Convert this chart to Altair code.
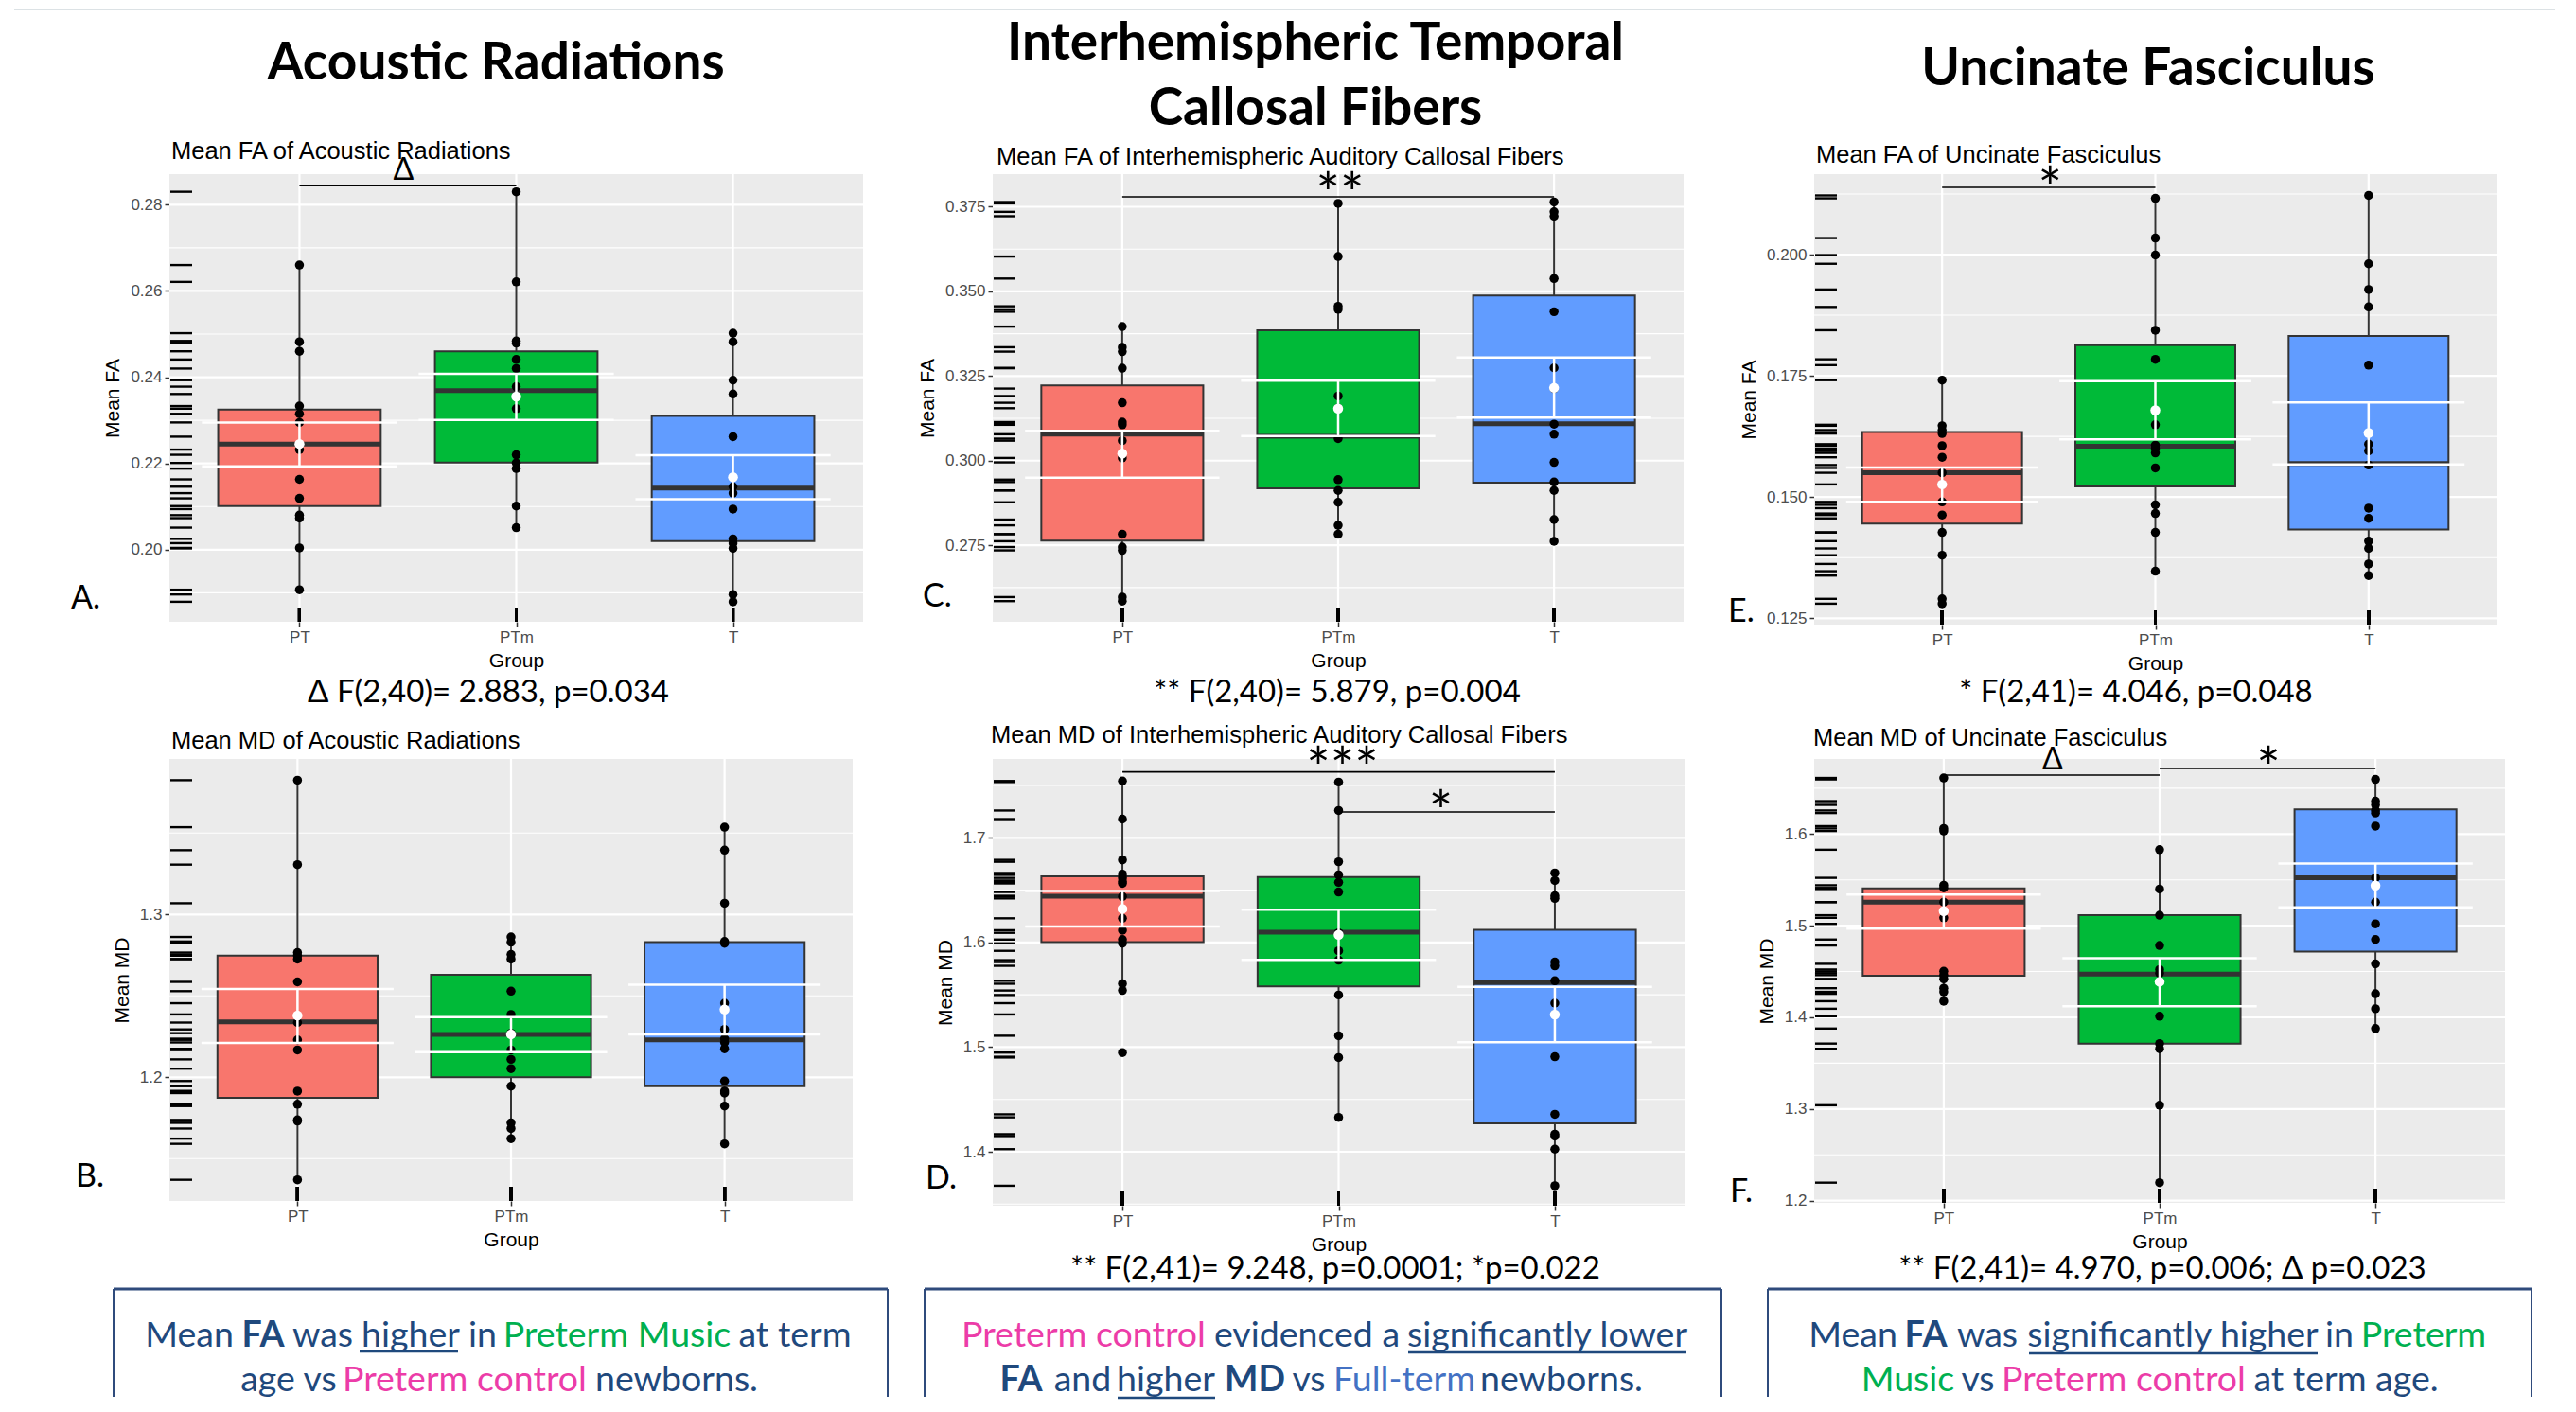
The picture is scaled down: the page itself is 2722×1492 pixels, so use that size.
import altair as alt
import pandas as pd

GROUPS = ["PT", "PTm", "T"]
BOX_FILL = ["#F8766D", "#00BA38", "#619CFF"]

# ---------------- data ----------------
# Panel A: Mean FA of Acoustic Radiations
A_PT = [0.2660, 0.2482, 0.2460, 0.2333, 0.2315, 0.2295, 0.2232, 0.2163, 0.2119, 0.2080, 0.2073, 0.2004, 0.1907]
A_PTM = [0.2830, 0.2621, 0.2484, 0.2479, 0.2441, 0.2420, 0.2378, 0.2327, 0.2220, 0.2201, 0.2188, 0.2101, 0.2051]
A_T = [0.2502, 0.2482, 0.2393, 0.2361, 0.2262, 0.2146, 0.2131, 0.2094, 0.2025, 0.2015, 0.2003, 0.1896, 0.1879]
A_Q1 = [0.2101, 0.2202, 0.2020]
A_MED = [0.2245, 0.2369, 0.2143]
A_Q3 = [0.2325, 0.2460, 0.2310]
A_WLO = [0.1907, 0.2051, 0.1879]
A_WHI = [0.2660, 0.2830, 0.2502]
A_MEAN = [0.2245, 0.2355, 0.2168]
A_SELO = [0.2193, 0.2301, 0.2117]
A_SEHI = [0.2295, 0.2408, 0.2219]

# Panel B: Mean MD of Acoustic Radiations
B_PT = [1.3825, 1.3306, 1.2766, 1.2747, 1.2726, 1.2586, 1.2336, 1.2230, 1.2168, 1.1915, 1.1834, 1.1738, 1.1731, 1.1370]
B_PTM = [1.2862, 1.2830, 1.2754, 1.2726, 1.2529, 1.2386, 1.2271, 1.2168, 1.2110, 1.2053, 1.1945, 1.1720, 1.1685, 1.1623]
B_T = [1.3536, 1.3395, 1.3069, 1.2834, 1.2823, 1.2455, 1.2294, 1.2237, 1.2214, 1.2175, 1.1977, 1.1915, 1.1903, 1.1823, 1.1591]
B_Q1 = [1.1874, 1.2000, 1.1945]
B_MED = [1.2340, 1.2264, 1.2230]
B_Q3 = [1.2747, 1.2630, 1.2830]
B_WLO = [1.1370, 1.1623, 1.1591]
B_WHI = [1.3825, 1.2862, 1.3536]
B_MEAN = [1.2379, 1.2264, 1.2416]
B_SELO = [1.2211, 1.2154, 1.2264]
B_SEHI = [1.2543, 1.2370, 1.2568]

# Panel C: Mean FA of Interhemispheric Auditory Callosal Fibers
C_PT = [0.3396, 0.3335, 0.3322, 0.3273, 0.3171, 0.3114, 0.3106, 0.3059, 0.3008, 0.2783, 0.2745, 0.2735, 0.2597, 0.2585]
C_PTM = [0.3760, 0.3603, 0.3456, 0.3447, 0.3191, 0.3155, 0.3065, 0.2944, 0.2912, 0.2877, 0.2809, 0.2783]
C_T = [0.3764, 0.3735, 0.3722, 0.3538, 0.3440, 0.3274, 0.3213, 0.3108, 0.3078, 0.2995, 0.2937, 0.2912, 0.2826, 0.2762]
C_Q1 = [0.2764, 0.2918, 0.2935]
C_MED = [0.3078, 0.3072, 0.3109]
C_Q3 = [0.3222, 0.3385, 0.3488]
C_WLO = [0.2585, 0.2783, 0.2762]
C_WHI = [0.3396, 0.3760, 0.3764]
C_MEAN = [0.3021, 0.3154, 0.3215]
C_SELO = [0.2950, 0.3073, 0.3127]
C_SEHI = [0.3088, 0.3236, 0.3305]

# Panel D: Mean MD of Interhemispheric Auditory Callosal Fibers
D_PT = [1.7543, 1.7179, 1.6789, 1.6653, 1.6617, 1.6582, 1.6564, 1.6439, 1.6231, 1.6117, 1.6028, 1.5992, 1.5606, 1.5541, 1.4948]
D_PTM = [1.7533, 1.7261, 1.6771, 1.6646, 1.6575, 1.6482, 1.6092, 1.5920, 1.5831, 1.5498, 1.5109, 1.4901, 1.4329]
D_T = [1.6664, 1.6592, 1.6446, 1.6421, 1.5813, 1.5777, 1.5634, 1.5420, 1.5312, 1.4908, 1.4358, 1.4168, 1.4150, 1.4025, 1.3675]
D_Q1 = [1.6003, 1.5581, 1.4272]
D_MED = [1.6442, 1.6099, 1.5616]
D_Q3 = [1.6632, 1.6625, 1.6120]
D_WLO = [1.5541, 1.4329, 1.3675]
D_WHI = [1.7543, 1.7533, 1.6664]
D_MEAN = [1.6321, 1.6074, 1.5312]
D_SELO = [1.6153, 1.5834, 1.5048]
D_SEHI = [1.6492, 1.6314, 1.5577]

# Panel E: Mean FA of Uncinate Fasciculus
E_PT = [0.1741, 0.1647, 0.1638, 0.1631, 0.1606, 0.1582, 0.1550, 0.1526, 0.1490, 0.1463, 0.1427, 0.1380, 0.1290, 0.1280]
E_PTM = [0.2116, 0.2034, 0.1999, 0.1844, 0.1784, 0.1649, 0.1607, 0.1600, 0.1591, 0.1560, 0.1484, 0.1466, 0.1427, 0.1347]
E_T = [0.2122, 0.1981, 0.1928, 0.1892, 0.1772, 0.1609, 0.1595, 0.1566, 0.1477, 0.1456, 0.1409, 0.1394, 0.1362, 0.1338]
E_Q1 = [0.1445, 0.1522, 0.1433]
E_MED = [0.1550, 0.1605, 0.1569]
E_Q3 = [0.1634, 0.1813, 0.1832]
E_WLO = [0.1280, 0.1347, 0.1338]
E_WHI = [0.1741, 0.2116, 0.2122]
E_MEAN = [0.1526, 0.1679, 0.1632]
E_SELO = [0.1490, 0.1619, 0.1567]
E_SEHI = [0.1561, 0.1739, 0.1695]

# Panel F: Mean MD of Uncinate Fasciculus
F_PT = [1.6612, 1.6061, 1.6033, 1.5441, 1.5412, 1.5257, 1.5086, 1.4502, 1.4461, 1.4420, 1.4318, 1.4278, 1.4176]
F_PTM = [1.5829, 1.5400, 1.5114, 1.4784, 1.4522, 1.4482, 1.4012, 1.3714, 1.3657, 1.3041, 1.2196]
F_T = [1.6596, 1.6359, 1.6318, 1.6257, 1.6229, 1.6086, 1.5522, 1.5257, 1.5020, 1.4849, 1.4584, 1.4257, 1.4094, 1.3878]
F_Q1 = [1.4453, 1.3714, 1.4718]
F_MED = [1.5257, 1.4473, 1.5522]
F_Q3 = [1.5408, 1.5114, 1.6269]
F_WLO = [1.4176, 1.2196, 1.3878]
F_WHI = [1.6612, 1.5829, 1.6596]
F_MEAN = [1.5159, 1.4388, 1.5437]
F_SELO = [1.4967, 1.4122, 1.5200]
F_SEHI = [1.5339, 1.4645, 1.5678]

# tick values
A_TICKS = [0.20, 0.22, 0.24, 0.26, 0.28]
A_MINOR = [0.19, 0.21, 0.23, 0.25, 0.27]
B_TICKS = [1.2, 1.3]
B_MINOR = [1.15, 1.25, 1.35]
C_TICKS = [0.275, 0.300, 0.325, 0.350, 0.375]
C_MINOR = [0.2625, 0.2875, 0.3125, 0.3375, 0.3625]
D_TICKS = [1.4, 1.5, 1.6, 1.7]
D_MINOR = [1.35, 1.45, 1.55, 1.65, 1.75]
E_TICKS = [0.125, 0.150, 0.175, 0.200]
E_MINOR = [0.1375, 0.1625, 0.1875, 0.2125]
F_TICKS = [1.2, 1.3, 1.4, 1.5, 1.6]
F_MINOR = [1.25, 1.35, 1.45, 1.55, 1.65]

# significance brackets (from group, to group, level) and marks (label, group, level)
A_BRACKETS = [("PT", "PTm", 0.28439)]
A_SIGS = [("Δ", "PT", 0.28797)]
B_BRACKETS = []
B_SIGS = []
C_BRACKETS = [("PT", "T", 0.37794)]
C_SIGS = [("**", "PTm", 0.38241)]
D_BRACKETS = [("PT", "T", 1.7630), ("PTm", "T", 1.7247)]
D_SIGS = [("***", "PTm", 1.7781), ("*", "PTm", 1.7368)]
E_BRACKETS = [("PT", "PTm", 0.21386)]
E_SIGS = [("*", "PT", 0.2162)]
F_BRACKETS = [("PT", "PTm", 1.6644), ("PTm", "T", 1.6715)]
F_SIGS = [("Δ", "PT", 1.6809), ("*", "PTm", 1.6850)]

# texts
TITLES = {"A": ["Acoustic Radiations"], "C": ["Interhemispheric Temporal", "Callosal Fibers"],
          "E": ["Uncinate Fasciculus"]}
SUBTITLES = {"A": "Mean FA of Acoustic Radiations", "B": "Mean MD of Acoustic Radiations",
             "C": "Mean FA of Interhemispheric Auditory Callosal Fibers",
             "D": "Mean MD of Interhemispheric Auditory Callosal Fibers",
             "E": "Mean FA of Uncinate Fasciculus", "F": "Mean MD of Uncinate Fasciculus"}
STATS = {"A": "Δ F(2,40)= 2.883, p=0.034", "C": "** F(2,40)= 5.879, p=0.004",
         "E": "* F(2,41)= 4.046, p=0.048", "D": "** F(2,41)= 9.248, p=0.0001; *p=0.022",
         "F": "** F(2,41)= 4.970, p=0.006; Δ p=0.023"}

NAVY = "#1F497D"
GREEN = "#00B050"
PINK = "#EC3CA8"
BLUE = "#4472C4"
BORDER = "#2F4B7C"

BOX_TEXT = {
    1: [(1, "Mean", NAVY, False), (1, "FA", NAVY, True), (1, "was", NAVY, False), (1, "higher", NAVY, False),
        (1, "in", NAVY, False), (1, "Preterm Music", GREEN, False), (1, "at term", NAVY, False),
        (2, "age vs", NAVY, False), (2, "Preterm control", PINK, False), (2, "newborns.", NAVY, False)],
    2: [(1, "Preterm control", PINK, False), (1, "evidenced a", NAVY, False), (1, "significantly lower", NAVY, False),
        (2, "FA", NAVY, True), (2, "and", NAVY, False), (2, "higher", NAVY, False), (2, "MD", NAVY, True),
        (2, "vs", NAVY, False), (2, "Full-term", BLUE, False), (2, "newborns.", NAVY, False)],
    3: [(1, "Mean", NAVY, False), (1, "FA", NAVY, True), (1, "was", NAVY, False),
        (1, "significantly higher", NAVY, False), (1, "in", NAVY, False), (1, "Preterm", GREEN, False),
        (2, "Music", GREEN, False), (2, "vs", NAVY, False), (2, "Preterm control", PINK, False),
        (2, "at term age.", NAVY, False)],
}

# ---------------- layout (pixels) ----------------
LAYOUT = {
    "A": dict(w=733, h=473, dom=[0.18327, 0.28709], fmt=".2f", yt="Mean FA", sub=(2, -24),
              letter=("A.", -104, 449), stat=(337, 548), title=(345, [-117]), sig_dx=[110]),
    "C": dict(w=730, h=473, dom=[0.25241, 0.38464], fmt=".3f", yt="Mean FA", sub=(4, -18),
              letter=("C.", -74, 447), stat=(364, 548), title=(341, [-138, -69]), sig_dx=[2]),
    "E": dict(w=721, h=476, dom=[0.12369, 0.21659], fmt=".3f", yt="Mean FA", sub=(2, -20),
              letter=("E.", -91, 463), stat=(340, 548), title=(353, [-111]), sig_dx=[114]),
    "B": dict(w=722, h=467, dom=[1.12401, 1.39552], fmt=".1f", yt="Mean MD", sub=(2, -19),
              letter=("B.", -99, 442), stat=None, title=None, sig_dx=[]),
    "D": dict(w=731, h=472, dom=[1.34846, 1.77534], fmt=".1f", yt="Mean MD", sub=(-2, -25),
              letter=("D.", -71, 444), stat=(362, 539), title=None, sig_dx=[4, 108]),
    "F": dict(w=730, h=469, dom=[1.19758, 1.68189], fmt=".1f", yt="Mean MD", sub=(-1, -22),
              letter=("F.", -89, 458), stat=(368, 539), title=None, sig_dx=[115, 115]),
}
# centre x of every text segment, relative to the column's plot origin
BOX_LAYOUT = {
    1: dict(frame=(-59, 759), xs=[21, 99, 162, 255, 331, 473, 661, 126, 312, 536], ul=[(201, 305, 12)]),
    2: dict(frame=(-72, 770), xs=[96, 332, 586, 30, 95, 183, 277, 334, 435, 601], ul=[(439, 733, 13), (132, 235, 61)]),
    3: dict(frame=(-49, 758), xs=[41, 118, 183, 379, 555, 644, 99, 173, 327, 562], ul=[(227, 532, 14)]),
}
LINE_Y = {1: 7, 2: 54}

GG_FONT = "Liberation Sans"
CAL_FONT = "Lato"

ONE = pd.DataFrame({"k": [0]})


def px_text(text, x, y, size, font=CAL_FONT, weight="normal", align="left", color="black",
            baseline="middle", angle=0):
    return alt.Chart(pd.DataFrame({"t": [text]})).mark_text(
        font=font, fontSize=size, fontWeight=weight, align=align, baseline=baseline,
        color=color, angle=angle
    ).encode(text="t:N", x=alt.value(x), y=alt.value(y))


def panel(key, pt, ptm, t, q1, med, q3, wlo, whi, mean, selo, sehi, ticks, minor, brackets, sigs, anchor=False):
    L = LAYOUT[key]
    W, H = L["w"], L["h"]
    step = W / 3.2
    xs = alt.Scale(type="point", domain=GROUPS, padding=0.6)
    ys = alt.Scale(domain=L["dom"], zero=False, nice=False)
    X = alt.X("g:N", scale=xs)

    def Y(f):
        return alt.Y(f, scale=ys)

    pts = pd.DataFrame({"g": ["PT"] * len(pt) + ["PTm"] * len(ptm) + ["T"] * len(t),
                        "v": list(pt) + list(ptm) + list(t)})
    st = pd.DataFrame({"g": GROUPS, "q1": q1, "med": med, "q3": q3, "wlo": wlo, "whi": whi,
                       "mean": mean, "selo": selo, "sehi": sehi})

    layers = []
    layers.append(alt.Chart(ONE).mark_rect(color="#EBEBEB").encode(
        x=alt.value(0), x2=alt.value(W), y=alt.value(0), y2=alt.value(H)))
    # major y grid carries the y axis
    layers.append(alt.Chart(pd.DataFrame({"v": ticks})).mark_rule(color="white", strokeWidth=2.2).encode(
        y=alt.Y("v:Q", scale=ys, axis=alt.Axis(
            values=ticks, format=L["fmt"], title=L["yt"], labelFont=GG_FONT, labelFontSize=17,
            labelColor="#4D4D4D", tickColor="#333333", tickSize=5, tickWidth=1.5, domain=False,
            grid=False, labelPadding=3, titleFont=GG_FONT, titleFontSize=21, titleFontWeight="normal",
            titleColor="black", titlePadding=8))))
    layers.append(alt.Chart(pd.DataFrame({"v": minor})).mark_rule(color="white", strokeWidth=1.1).encode(
        y=Y("v:Q")))
    # x grid carries the x axis
    layers.append(alt.Chart(pd.DataFrame({"g": GROUPS})).mark_rule(color="white", strokeWidth=2.2).encode(
        x=alt.X("g:N", scale=xs, axis=alt.Axis(
            title="Group", labelFont=GG_FONT, labelFontSize=17, labelColor="#4D4D4D", labelAngle=0,
            tickColor="#333333", tickSize=5, tickWidth=1.5, domain=False, grid=False, labelPadding=3,
            titleFont=GG_FONT, titleFontSize=21, titleFontWeight="normal", titleColor="black",
            titlePadding=6))))
    # rugs
    layers.append(alt.Chart(pts).mark_rule(color="black", strokeWidth=2.4).encode(
        x=alt.value(1), x2=alt.value(24), y=Y("v:Q")))
    layers.append(alt.Chart(pts).mark_rule(color="black", strokeWidth=3).encode(
        x=X, y=alt.value(H - 15), y2=alt.value(H)))
    # boxplot
    layers.append(alt.Chart(st).mark_rule(color="#333333", strokeWidth=2).encode(
        x=X, y=Y("wlo:Q"), y2="whi:Q"))
    layers.append(alt.Chart(st).mark_bar(width=0.75 * step, stroke="#333333", strokeWidth=2, opacity=1).encode(
        x=X, y=Y("q1:Q"), y2="q3:Q",
        color=alt.Color("g:N", scale=alt.Scale(domain=GROUPS, range=BOX_FILL), legend=None)))
    layers.append(alt.Chart(st).mark_tick(color="#333333", thickness=5, size=0.75 * step, opacity=1).encode(
        x=X, y=Y("med:Q")))
    layers.append(alt.Chart(pts).mark_circle(size=90, color="black", opacity=1).encode(
        x=X, y=Y("v:Q")))
    # mean +- SE
    layers.append(alt.Chart(st).mark_rule(color="white", strokeWidth=2.5).encode(
        x=X, y=Y("selo:Q"), y2="sehi:Q"))
    layers.append(alt.Chart(st).transform_fold(["selo", "sehi"], as_=["k", "val"]).mark_tick(
        color="white", thickness=2.5, size=0.9 * step, opacity=1).encode(
        x=X, y=Y("val:Q")))
    layers.append(alt.Chart(st).mark_circle(size=110, color="white", opacity=1).encode(
        x=X, y=Y("mean:Q")))
    # significance
    if brackets:
        bdf = pd.DataFrame(brackets, columns=["g", "g2", "v"])
        layers.append(alt.Chart(bdf).mark_rule(color="black", strokeWidth=1.6).encode(
            x=X, x2="g2:N", y=Y("v:Q")))
    for (lab, g, yv), dx in zip(sigs, L["sig_dx"]):
        is_delta = lab == "Δ"
        size = 32 if is_delta else 60
        dy = 0 if is_delta else 16
        layers.append(alt.Chart(pd.DataFrame({"t": [lab], "g": [g], "v": [yv]})).mark_text(
            font=CAL_FONT, fontSize=size, dx=dx, dy=dy, baseline="middle", align="center", color="black"
        ).encode(text="t:N", x=X, y=Y("v:Q")))
    # texts
    sx, sy = L["sub"]
    layers.append(px_text(SUBTITLES[key], sx, sy, 25.5, font=GG_FONT))
    lab, lx, ly = L["letter"]
    layers.append(px_text(lab, lx, ly, 34))
    if L["stat"] is not None:
        layers.append(px_text(STATS[key], L["stat"][0], L["stat"][1], 33, align="center"))
    if L["title"] is not None:
        tx, tys = L["title"]
        for line, ty in zip(TITLES[key], tys):
            layers.append(px_text(line, tx, ty, 55, weight="bold", align="center"))
    if anchor:
        layers.append(alt.Chart(ONE).mark_rule(color="white", strokeWidth=1).encode(
            x=alt.value(-170.5), x2=alt.value(-169.5), y=alt.value(-175.5)))
        # faint frame edge along the top of the slide
        layers.append(alt.Chart(ONE).mark_rule(color="#DCE2E5", strokeWidth=2).encode(
            x=alt.value(-164), x2=alt.value(2521), y=alt.value(-174)))
    return alt.layer(*layers).properties(width=W, height=H)


def text_box(n):
    L = BOX_LAYOUT[n]
    x0, x1 = L["frame"]
    top, bot = -54, 60
    segs = BOX_TEXT[n]
    df = pd.DataFrame({"t": [s[1] for s in segs], "c": [s[2] for s in segs],
                       "b": [s[3] for s in segs], "x": L["xs"], "y": [LINE_Y[s[0]] for s in segs]})
    layers = [
        alt.Chart(ONE).mark_rule(color=BORDER, strokeWidth=3).encode(
            x=alt.value(x0), x2=alt.value(x1), y=alt.value(top)),
        alt.Chart(ONE).mark_rule(color=BORDER, strokeWidth=2).encode(
            x=alt.value(x0), y=alt.value(top), y2=alt.value(bot)),
        alt.Chart(ONE).mark_rule(color=BORDER, strokeWidth=2).encode(
            x=alt.value(x1), y=alt.value(top), y2=alt.value(bot)),
    ]
    for bold in (False, True):
        sub = df[df["b"] == bold]
        if len(sub):
            layers.append(alt.Chart(sub).mark_text(
                font=CAL_FONT, fontSize=37.5, fontWeight="bold" if bold else "normal",
                align="center", baseline="alphabetic").encode(
                text="t:N", x=alt.X("x:Q", scale=None), y=alt.Y("y:Q", scale=None),
                color=alt.Color("c:N", scale=None)))
    ul = pd.DataFrame(L["ul"], columns=["x1", "x2", "y"])
    layers.append(alt.Chart(ul).mark_rule(color=NAVY, strokeWidth=2.5).encode(
        x=alt.X("x1:Q", scale=None), x2="x2:Q", y=alt.Y("y:Q", scale=None)))
    return alt.layer(*layers).properties(width=1, height=bot)


pA = panel("A", A_PT, A_PTM, A_T, A_Q1, A_MED, A_Q3, A_WLO, A_WHI, A_MEAN, A_SELO, A_SEHI,
           A_TICKS, A_MINOR, A_BRACKETS, A_SIGS, anchor=True)
pB = panel("B", B_PT, B_PTM, B_T, B_Q1, B_MED, B_Q3, B_WLO, B_WHI, B_MEAN, B_SELO, B_SEHI,
           B_TICKS, B_MINOR, B_BRACKETS, B_SIGS)
pC = panel("C", C_PT, C_PTM, C_T, C_Q1, C_MED, C_Q3, C_WLO, C_WHI, C_MEAN, C_SELO, C_SEHI,
           C_TICKS, C_MINOR, C_BRACKETS, C_SIGS)
pD = panel("D", D_PT, D_PTM, D_T, D_Q1, D_MED, D_Q3, D_WLO, D_WHI, D_MEAN, D_SELO, D_SEHI,
           D_TICKS, D_MINOR, D_BRACKETS, D_SIGS)
pE = panel("E", E_PT, E_PTM, E_T, E_Q1, E_MED, E_Q3, E_WLO, E_WHI, E_MEAN, E_SELO, E_SEHI,
           E_TICKS, E_MINOR, E_BRACKETS, E_SIGS)
pF = panel("F", F_PT, F_PTM, F_T, F_Q1, F_MED, F_Q3, F_WLO, F_WHI, F_MEAN, F_SELO, F_SEHI,
           F_TICKS, F_MINOR, F_BRACKETS, F_SIGS)

chart = alt.concat(
    pA, pC, pE, pB, pD, pF, text_box(1), text_box(2), text_box(3),
    columns=3, spacing=alt.RowColnumber(row=142, column=137), bounds="flush", align="each",
).properties(padding=0, background="white").configure_view(strokeWidth=0)

chart.save("out.html", embed_options={"renderer": "svg", "actions": False})
